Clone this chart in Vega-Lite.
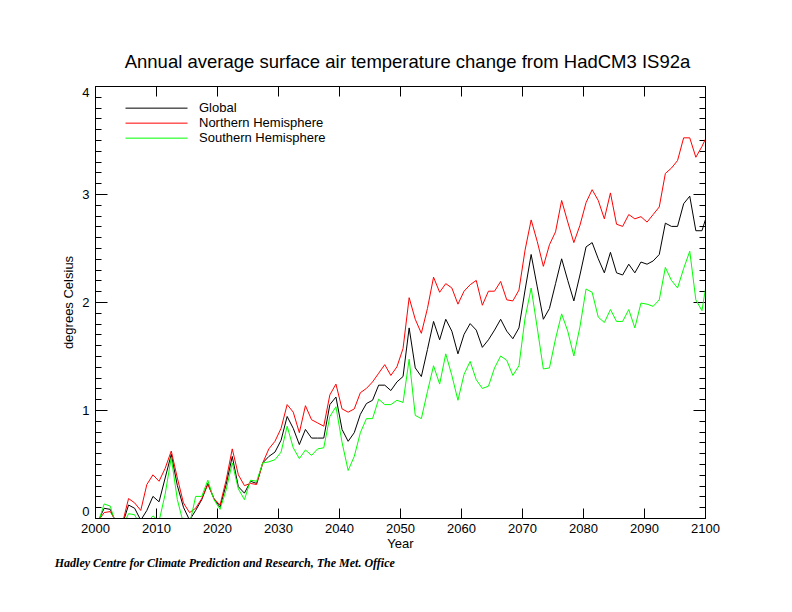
{
  "$schema": "https://vega.github.io/schema/vega-lite/v6.json",
  "width": 610,
  "height": 432,
  "autosize": {"type": "none"},
  "padding": {"left": 95, "top": 86, "right": 87, "bottom": 94},
  "background": "white",
  "title": {
    "text": "Hadley Centre for Climate Prediction and Research, The Met. Office",
    "orient": "bottom",
    "anchor": "start",
    "font": "Liberation Serif",
    "fontStyle": "italic",
    "fontWeight": "bold",
    "fontSize": 12,
    "color": "black",
    "dx": -8,
    "offset": 8
  },
  "data": {
    "values": [
      {"year": 2000.5, "Global": -0.03, "Northern Hemisphere": -0.03, "Southern Hemisphere": -0.05},
      {"year": 2001.5, "Global": 0.09, "Northern Hemisphere": 0.05, "Southern Hemisphere": 0.13},
      {"year": 2002.5, "Global": 0.08, "Northern Hemisphere": 0.06, "Southern Hemisphere": 0.11},
      {"year": 2003.5, "Global": -0.05, "Northern Hemisphere": -0.04, "Southern Hemisphere": -0.08},
      {"year": 2004.5, "Global": -0.06, "Northern Hemisphere": -0.05, "Southern Hemisphere": -0.08},
      {"year": 2005.5, "Global": 0.12, "Northern Hemisphere": 0.18, "Southern Hemisphere": 0.04},
      {"year": 2006.5, "Global": 0.09, "Northern Hemisphere": 0.14, "Southern Hemisphere": 0.03},
      {"year": 2007.5, "Global": -0.02, "Northern Hemisphere": 0.07, "Southern Hemisphere": -0.08},
      {"year": 2008.5, "Global": 0.07, "Northern Hemisphere": 0.31, "Southern Hemisphere": -0.05},
      {"year": 2009.5, "Global": 0.2, "Northern Hemisphere": 0.4, "Southern Hemisphere": 0.02},
      {"year": 2010.5, "Global": 0.15, "Northern Hemisphere": 0.34, "Southern Hemisphere": -0.03},
      {"year": 2011.5, "Global": 0.37, "Northern Hemisphere": 0.46, "Southern Hemisphere": 0.22},
      {"year": 2012.5, "Global": 0.59, "Northern Hemisphere": 0.62, "Southern Hemisphere": 0.56},
      {"year": 2013.5, "Global": 0.3, "Northern Hemisphere": 0.37, "Southern Hemisphere": 0.17},
      {"year": 2014.5, "Global": 0.1, "Northern Hemisphere": 0.14, "Southern Hemisphere": -0.05},
      {"year": 2015.5, "Global": -0.02, "Northern Hemisphere": 0.05, "Southern Hemisphere": -0.06},
      {"year": 2016.5, "Global": 0.07, "Northern Hemisphere": 0.09, "Southern Hemisphere": 0.2},
      {"year": 2017.5, "Global": 0.17, "Northern Hemisphere": 0.18, "Southern Hemisphere": 0.2},
      {"year": 2018.5, "Global": 0.32, "Northern Hemisphere": 0.31, "Southern Hemisphere": 0.35},
      {"year": 2019.5, "Global": 0.18, "Northern Hemisphere": 0.18, "Southern Hemisphere": 0.17},
      {"year": 2020.5, "Global": 0.1, "Northern Hemisphere": 0.12, "Southern Hemisphere": 0.08},
      {"year": 2021.5, "Global": 0.31, "Northern Hemisphere": 0.35, "Southern Hemisphere": 0.26},
      {"year": 2022.5, "Global": 0.57, "Northern Hemisphere": 0.64, "Southern Hemisphere": 0.51},
      {"year": 2023.5, "Global": 0.29, "Northern Hemisphere": 0.4, "Southern Hemisphere": 0.27},
      {"year": 2024.5, "Global": 0.23, "Northern Hemisphere": 0.3, "Southern Hemisphere": 0.17},
      {"year": 2025.5, "Global": 0.34, "Northern Hemisphere": 0.32, "Southern Hemisphere": 0.35},
      {"year": 2026.5, "Global": 0.32, "Northern Hemisphere": 0.31, "Southern Hemisphere": 0.34},
      {"year": 2027.5, "Global": 0.51, "Northern Hemisphere": 0.51, "Southern Hemisphere": 0.51},
      {"year": 2028.5, "Global": 0.57, "Northern Hemisphere": 0.64, "Southern Hemisphere": 0.52},
      {"year": 2029.5, "Global": 0.61, "Northern Hemisphere": 0.71, "Southern Hemisphere": 0.54},
      {"year": 2030.5, "Global": 0.72, "Northern Hemisphere": 0.83, "Southern Hemisphere": 0.61},
      {"year": 2031.5, "Global": 0.94, "Northern Hemisphere": 1.05, "Southern Hemisphere": 0.85},
      {"year": 2032.5, "Global": 0.83, "Northern Hemisphere": 0.98, "Southern Hemisphere": 0.65},
      {"year": 2033.5, "Global": 0.68, "Northern Hemisphere": 0.79, "Southern Hemisphere": 0.55},
      {"year": 2034.5, "Global": 0.82, "Northern Hemisphere": 1.04, "Southern Hemisphere": 0.63},
      {"year": 2035.5, "Global": 0.74, "Northern Hemisphere": 0.91, "Southern Hemisphere": 0.58},
      {"year": 2036.5, "Global": 0.74, "Northern Hemisphere": 0.88, "Southern Hemisphere": 0.64},
      {"year": 2037.5, "Global": 0.74, "Northern Hemisphere": 0.85, "Southern Hemisphere": 0.65},
      {"year": 2038.5, "Global": 1.05, "Northern Hemisphere": 1.14, "Southern Hemisphere": 0.94},
      {"year": 2039.5, "Global": 1.12, "Northern Hemisphere": 1.24, "Southern Hemisphere": 1.03},
      {"year": 2040.5, "Global": 0.82, "Northern Hemisphere": 1.01, "Southern Hemisphere": 0.7},
      {"year": 2041.5, "Global": 0.71, "Northern Hemisphere": 0.98, "Southern Hemisphere": 0.44},
      {"year": 2042.5, "Global": 0.79, "Northern Hemisphere": 1.01, "Southern Hemisphere": 0.57},
      {"year": 2043.5, "Global": 0.96, "Northern Hemisphere": 1.16, "Southern Hemisphere": 0.79},
      {"year": 2044.5, "Global": 1.06, "Northern Hemisphere": 1.2, "Southern Hemisphere": 0.92},
      {"year": 2045.5, "Global": 1.09, "Northern Hemisphere": 1.26, "Southern Hemisphere": 0.92},
      {"year": 2046.5, "Global": 1.23, "Northern Hemisphere": 1.34, "Southern Hemisphere": 1.1},
      {"year": 2047.5, "Global": 1.23, "Northern Hemisphere": 1.42, "Southern Hemisphere": 1.05},
      {"year": 2048.5, "Global": 1.18, "Northern Hemisphere": 1.32, "Southern Hemisphere": 1.05},
      {"year": 2049.5, "Global": 1.26, "Northern Hemisphere": 1.4, "Southern Hemisphere": 1.09},
      {"year": 2050.5, "Global": 1.31, "Northern Hemisphere": 1.57, "Southern Hemisphere": 1.07},
      {"year": 2051.5, "Global": 1.76, "Northern Hemisphere": 2.04, "Southern Hemisphere": 1.47},
      {"year": 2052.5, "Global": 1.39, "Northern Hemisphere": 1.84, "Southern Hemisphere": 0.95},
      {"year": 2053.5, "Global": 1.31, "Northern Hemisphere": 1.71, "Southern Hemisphere": 0.92},
      {"year": 2054.5, "Global": 1.56, "Northern Hemisphere": 1.94, "Southern Hemisphere": 1.17},
      {"year": 2055.5, "Global": 1.82, "Northern Hemisphere": 2.23, "Southern Hemisphere": 1.41},
      {"year": 2056.5, "Global": 1.65, "Northern Hemisphere": 2.09, "Southern Hemisphere": 1.24},
      {"year": 2057.5, "Global": 1.84, "Northern Hemisphere": 2.17, "Southern Hemisphere": 1.52},
      {"year": 2058.5, "Global": 1.73, "Northern Hemisphere": 2.13, "Southern Hemisphere": 1.32},
      {"year": 2059.5, "Global": 1.52, "Northern Hemisphere": 1.98, "Southern Hemisphere": 1.09},
      {"year": 2060.5, "Global": 1.7, "Northern Hemisphere": 2.1, "Southern Hemisphere": 1.33},
      {"year": 2061.5, "Global": 1.8, "Northern Hemisphere": 2.16, "Southern Hemisphere": 1.45},
      {"year": 2062.5, "Global": 1.74, "Northern Hemisphere": 2.2, "Southern Hemisphere": 1.28},
      {"year": 2063.5, "Global": 1.58, "Northern Hemisphere": 1.97, "Southern Hemisphere": 1.2},
      {"year": 2064.5, "Global": 1.65, "Northern Hemisphere": 2.1, "Southern Hemisphere": 1.22},
      {"year": 2065.5, "Global": 1.74, "Northern Hemisphere": 2.1, "Southern Hemisphere": 1.39},
      {"year": 2066.5, "Global": 1.84, "Northern Hemisphere": 2.19, "Southern Hemisphere": 1.5},
      {"year": 2067.5, "Global": 1.73, "Northern Hemisphere": 2.02, "Southern Hemisphere": 1.46},
      {"year": 2068.5, "Global": 1.66, "Northern Hemisphere": 2.01, "Southern Hemisphere": 1.32},
      {"year": 2069.5, "Global": 1.76, "Northern Hemisphere": 2.11, "Southern Hemisphere": 1.41},
      {"year": 2070.5, "Global": 2.11, "Northern Hemisphere": 2.48, "Southern Hemisphere": 1.85},
      {"year": 2071.5, "Global": 2.44, "Northern Hemisphere": 2.76, "Southern Hemisphere": 2.13},
      {"year": 2072.5, "Global": 2.14, "Northern Hemisphere": 2.56, "Southern Hemisphere": 1.76},
      {"year": 2073.5, "Global": 1.84, "Northern Hemisphere": 2.33, "Southern Hemisphere": 1.38},
      {"year": 2074.5, "Global": 1.94, "Northern Hemisphere": 2.53, "Southern Hemisphere": 1.39},
      {"year": 2075.5, "Global": 2.17, "Northern Hemisphere": 2.65, "Southern Hemisphere": 1.66},
      {"year": 2076.5, "Global": 2.4, "Northern Hemisphere": 2.94, "Southern Hemisphere": 1.89},
      {"year": 2077.5, "Global": 2.2, "Northern Hemisphere": 2.74, "Southern Hemisphere": 1.73},
      {"year": 2078.5, "Global": 2.01, "Northern Hemisphere": 2.55, "Southern Hemisphere": 1.5},
      {"year": 2079.5, "Global": 2.25, "Northern Hemisphere": 2.71, "Southern Hemisphere": 1.77},
      {"year": 2080.5, "Global": 2.51, "Northern Hemisphere": 2.92, "Southern Hemisphere": 2.12},
      {"year": 2081.5, "Global": 2.55, "Northern Hemisphere": 3.04, "Southern Hemisphere": 2.09},
      {"year": 2082.5, "Global": 2.4, "Northern Hemisphere": 2.94, "Southern Hemisphere": 1.86},
      {"year": 2083.5, "Global": 2.27, "Northern Hemisphere": 2.77, "Southern Hemisphere": 1.81},
      {"year": 2084.5, "Global": 2.46, "Northern Hemisphere": 3.01, "Southern Hemisphere": 1.93},
      {"year": 2085.5, "Global": 2.27, "Northern Hemisphere": 2.72, "Southern Hemisphere": 1.82},
      {"year": 2086.5, "Global": 2.25, "Northern Hemisphere": 2.7, "Southern Hemisphere": 1.82},
      {"year": 2087.5, "Global": 2.35, "Northern Hemisphere": 2.81, "Southern Hemisphere": 1.93},
      {"year": 2088.5, "Global": 2.27, "Northern Hemisphere": 2.77, "Southern Hemisphere": 1.76},
      {"year": 2089.5, "Global": 2.37, "Northern Hemisphere": 2.79, "Southern Hemisphere": 1.99},
      {"year": 2090.5, "Global": 2.35, "Northern Hemisphere": 2.74, "Southern Hemisphere": 1.98},
      {"year": 2091.5, "Global": 2.38, "Northern Hemisphere": 2.81, "Southern Hemisphere": 1.96},
      {"year": 2092.5, "Global": 2.44, "Northern Hemisphere": 2.88, "Southern Hemisphere": 2.02},
      {"year": 2093.5, "Global": 2.73, "Northern Hemisphere": 3.19, "Southern Hemisphere": 2.32},
      {"year": 2094.5, "Global": 2.7, "Northern Hemisphere": 3.24, "Southern Hemisphere": 2.2},
      {"year": 2095.5, "Global": 2.7, "Northern Hemisphere": 3.31, "Southern Hemisphere": 2.13},
      {"year": 2096.5, "Global": 2.91, "Northern Hemisphere": 3.52, "Southern Hemisphere": 2.31},
      {"year": 2097.5, "Global": 2.98, "Northern Hemisphere": 3.52, "Southern Hemisphere": 2.47},
      {"year": 2098.5, "Global": 2.66, "Northern Hemisphere": 3.34, "Southern Hemisphere": 2.02},
      {"year": 2099.5, "Global": 2.66, "Northern Hemisphere": 3.44, "Southern Hemisphere": 1.92},
      {"year": 2100.5, "Global": 2.84, "Northern Hemisphere": 3.56, "Southern Hemisphere": 2.27}
    ]
  },
  "transform": [
    {"fold": ["Global", "Northern Hemisphere", "Southern Hemisphere"], "as": ["series", "value"]}
  ],
  "layer": [
    {
      "mark": {"type": "line", "strokeWidth": 1, "clip": true},
      "encoding": {
        "x": {
          "field": "year",
          "type": "quantitative",
          "scale": {"domain": [2000, 2100], "nice": false, "zero": false},
          "axis": {
            "orient": "bottom",
            "values": [2000, 2010, 2020, 2030, 2040, 2050, 2060, 2070, 2080, 2090, 2100],
            "tickCount": 50,
            "format": "d",
            "tickSize": -10,
            "tickColor": "black",
            "domainColor": "black",
            "labelPadding": 14,
            "labelFont": "Liberation Sans",
            "labelFontSize": 13,
            "labelColor": "black",
            "labelFlush": false,
            "labelOverlap": false,
            "grid": false,
            "title": "Year",
            "titleFont": "Liberation Sans",
            "titleFontSize": 13,
            "titleFontWeight": "normal",
            "titleColor": "black",
            "titlePadding": 2
          }
        },
        "y": {
          "field": "value",
          "type": "quantitative",
          "scale": {"domain": [0, 4], "nice": false, "zero": false},
          "axis": {
            "orient": "left",
            "values": [0, 1, 2, 3, 4],
            "tickCount": 50,
            "format": "d",
            "ticks": false,
            "grid": true,
            "gridColor": "black",
            "gridWidth": 1,
            "gridOpacity": 1,
            "gridDash": [12, 586, 12, 1000],
            "domainColor": "black",
            "labelPadding": 6,
            "labelFont": "Liberation Sans",
            "labelFontSize": 13,
            "labelColor": "black",
            "labelFlush": true,
            "labelOverlap": false,
            "title": "degrees Celsius",
            "titleFont": "Liberation Sans",
            "titleFontSize": 13,
            "titleFontWeight": "normal",
            "titleColor": "black",
            "titlePadding": 6
          }
        },
        "color": {
          "field": "series",
          "type": "nominal",
          "scale": {"domain": ["Global", "Northern Hemisphere", "Southern Hemisphere"], "range": ["#000000", "#ff0000", "#00ff00"]},
          "legend": {
            "orient": "none",
            "legendX": 30,
            "legendY": 15,
            "title": null,
            "padding": 0,
            "symbolType": "stroke",
            "symbolSize": 3844,
            "symbolStrokeWidth": 1,
            "symbolOffset": 0,
            "labelOffset": 11,
            "labelFont": "Liberation Sans",
            "labelFontSize": 13,
            "labelColor": "black",
            "clipHeight": 14.3,
            "rowPadding": 0
          }
        }
      }
    },
    {
      "mark": {"type": "line", "strokeOpacity": 0, "clip": true},
      "encoding": {
        "x": {
          "field": "year",
          "type": "quantitative",
          "scale": {"domain": [2000, 2100], "nice": false, "zero": false},
          "axis": {
            "orient": "top",
            "values": [2000, 2010, 2020, 2030, 2040, 2050, 2060, 2070, 2080, 2090, 2100],
            "tickCount": 50,
            "labels": false,
            "tickSize": -10,
            "tickColor": "black",
            "domainColor": "black",
            "grid": false,
            "title": "Annual average surface air temperature change from HadCM3 IS92a",
            "titleX": 312,
            "titleFont": "Liberation Sans",
            "titleFontSize": 18.5,
            "titleFontWeight": "normal",
            "titleColor": "black",
            "titlePadding": 14
          }
        },
        "y": {
          "field": "value",
          "type": "quantitative",
          "scale": {"domain": [0, 4], "nice": false, "zero": false},
          "axis": {
            "orient": "right",
            "values": [0, 0.1, 0.2, 0.3, 0.4, 0.5, 0.6, 0.7, 0.8, 0.9, 1, 1.1, 1.2, 1.3, 1.4, 1.5, 1.6, 1.7, 1.8, 1.9, 2, 2.1, 2.2, 2.3, 2.4, 2.5, 2.6, 2.7, 2.8, 2.9, 3, 3.1, 3.2, 3.3, 3.4, 3.5, 3.6, 3.7, 3.8, 3.9, 4],
            "tickCount": 50,
            "labels": false,
            "ticks": false,
            "grid": true,
            "gridColor": "black",
            "gridWidth": 1,
            "gridOpacity": 1,
            "gridDash": [6, 598, 6, 1000],
            "domainColor": "black",
            "title": null
          }
        },
        "detail": {"field": "series", "type": "nominal"}
      }
    }
  ],
  "resolve": {"axis": {"x": "independent", "y": "independent"}},
  "config": {
    "view": {"stroke": null}
  }
}
